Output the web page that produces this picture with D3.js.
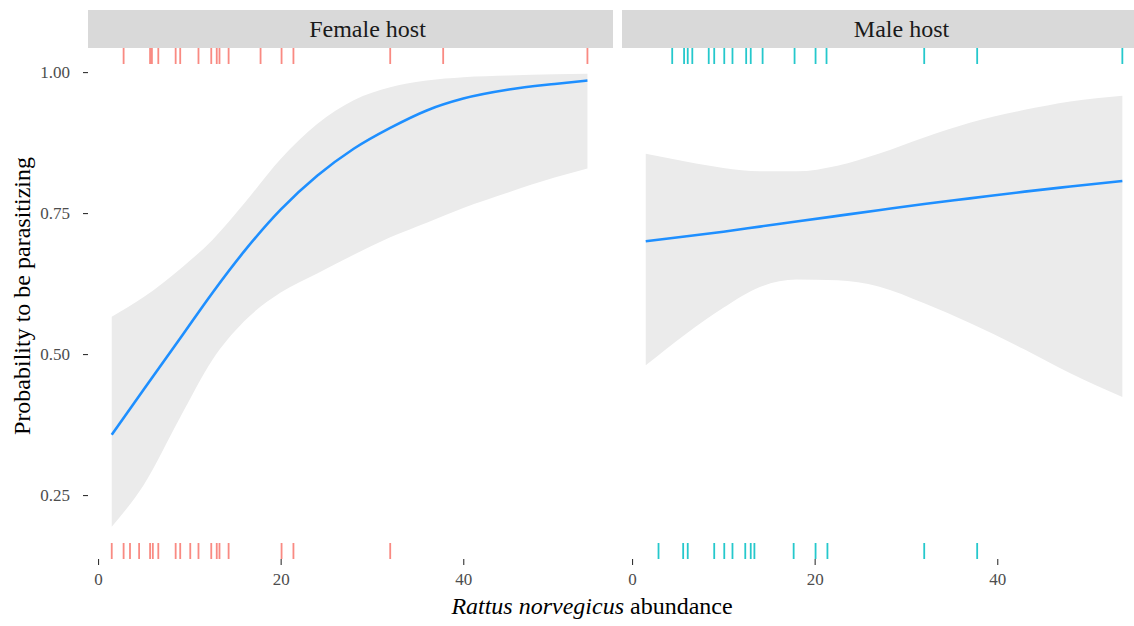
<!DOCTYPE html>
<html lang="en">
<head>
    <meta charset="UTF-8">
    <title>Probability to be parasitizing</title>
    <script type="text/javascript" src="https://cdn.jsdelivr.net/npm/d3@7"></script>
    <style>
        body { margin: 0; background: #fff; }
        svg text { font-family: "Liberation Serif", serif; }
    </style>
</head>
<body>
<script type="text/javascript">
    var w = 1134;
    var h = 626;

    var panels = ["Female host", "Male host"];
    var xTicks = [0, 20, 40];
    var yTicks = [0.25, 0.50, 0.75, 1.00];

    // fitted curve + confidence band, female hosts
    var femaleX = [1.5, 5, 9, 12.5, 16, 20, 24, 28, 32, 36, 40, 45, 50, 53.6];
    var femaleFit = [0.357, 0.437, 0.528, 0.608, 0.682, 0.756, 0.816, 0.864, 0.901, 0.932, 0.953, 0.969, 0.979, 0.985];
    var femaleHi = [0.566, 0.601, 0.651, 0.702, 0.767, 0.846, 0.908, 0.950, 0.973, 0.985, 0.991, 0.994, 0.996, 0.997];
    var femaleLo = [0.194, 0.268, 0.388, 0.489, 0.558, 0.609, 0.643, 0.676, 0.707, 0.733, 0.759, 0.787, 0.813, 0.829];

    // fitted curve + confidence band, male hosts
    var maleX = [1.5, 6, 10, 14, 18, 22.5, 27, 32, 37, 43, 48, 53.7];
    var maleFit = [0.700, 0.709, 0.717, 0.726, 0.735, 0.745, 0.755, 0.766, 0.776, 0.788, 0.797, 0.807];
    var maleHi = [0.855, 0.841, 0.830, 0.824, 0.824, 0.834, 0.855, 0.884, 0.910, 0.933, 0.948, 0.958];
    var maleLo = [0.480, 0.537, 0.582, 0.619, 0.632, 0.631, 0.620, 0.590, 0.555, 0.508, 0.466, 0.424];

    // rug: abundance of parasitizing (top) and non-parasitizing (bottom) records
    var femaleTop = [2.8, 5.7, 5.9, 6.6, 8.5, 9.0, 11.0, 12.4, 13.0, 13.3, 14.3, 17.8, 20.1, 21.4, 32.0, 37.8, 53.6];
    var femaleBottom = [1.5, 2.8, 3.5, 4.5, 5.7, 6.0, 6.6, 8.5, 9.0, 10.1, 11.0, 12.4, 13.0, 13.3, 14.3, 20.1, 21.4, 32.0];
    var maleTop = [4.4, 5.7, 6.1, 6.6, 8.4, 9.0, 10.1, 11.0, 12.5, 13.0, 14.3, 17.8, 20.1, 21.3, 32.0, 37.8, 53.7];
    var maleBottom = [2.9, 5.6, 6.1, 9.0, 10.1, 11.0, 12.4, 13.0, 13.4, 17.7, 20.1, 21.4, 32.0, 37.8];

    var panelData = [
        {x: femaleX, fit: femaleFit, hi: femaleHi, lo: femaleLo, top: femaleTop, bottom: femaleBottom, col: "#F8766D"},
        {x: maleX, fit: maleFit, hi: maleHi, lo: maleLo, top: maleTop, bottom: maleBottom, col: "#00BFC4"}
    ];

    var panelLeft = [88, 622];
    var panelW = 525;
    var panelTop = 48;
    var panelBottom = 559;
    var stripTop = 10;
    var rugLen = 16;
    var serif = "Liberation Serif, serif";

    var svg = d3.select("body")
        .append("svg")
        .attr("width", w)
        .attr("height", h)
        .attr("font-family", serif);

    var yScale = d3.scaleLinear()
        .domain([0.1366, 1.0427])
        .range([panelBottom, panelTop]);

    panels.forEach(function (name, i) {
        var p = panelData[i];
        var x0 = panelLeft[i];
        var xScale = d3.scaleLinear()
            .domain([-1.1, 56.4])
            .range([x0, x0 + panelW]);

        var g = svg.append("g");

        // strip
        g.append("rect")
            .attr("x", x0)
            .attr("y", stripTop)
            .attr("width", panelW)
            .attr("height", panelTop - stripTop)
            .attr("fill", "#D9D9D9");
        g.append("text")
            .attr("x", x0 + panelW / 2 + 17)
            .attr("y", (stripTop + panelTop) / 2)
            .attr("dy", "0.35em")
            .attr("text-anchor", "middle")
            .attr("font-family", serif)
            .attr("font-size", "24px")
            .attr("fill", "#1A1A1A")
            .text(name);

        var rows = p.x.map(function (d, j) {
            return {x: d, fit: p.fit[j], hi: p.hi[j], lo: p.lo[j]};
        });

        // confidence band
        g.append("path")
            .datum(rows)
            .attr("fill", "#EBEBEB")
            .attr("d", d3.area()
                .curve(d3.curveMonotoneX)
                .x(function (d) { return xScale(d.x); })
                .y0(function (d) { return yScale(d.lo); })
                .y1(function (d) { return yScale(d.hi); }));

        // fitted line
        g.append("path")
            .datum(rows)
            .attr("fill", "none")
            .attr("stroke", "#1E8FFF")
            .attr("stroke-width", 2.6)
            .attr("d", d3.line()
                .curve(d3.curveMonotoneX)
                .x(function (d) { return xScale(d.x); })
                .y(function (d) { return yScale(d.fit); }));

        // rugs
        g.selectAll(".rugTop")
            .data(p.top).enter()
            .append("line")
            .attr("x1", function (d) { return xScale(d); })
            .attr("x2", function (d) { return xScale(d); })
            .attr("y1", panelTop)
            .attr("y2", panelTop + rugLen)
            .attr("stroke", p.col)
            .attr("stroke-width", 1.8)
            .attr("opacity", 0.85);
        g.selectAll(".rugBottom")
            .data(p.bottom).enter()
            .append("line")
            .attr("x1", function (d) { return xScale(d); })
            .attr("x2", function (d) { return xScale(d); })
            .attr("y1", panelBottom - rugLen)
            .attr("y2", panelBottom)
            .attr("stroke", p.col)
            .attr("stroke-width", 1.8)
            .attr("opacity", 0.85);

        // x axis (ticks only, no line)
        var xAxis = g.append("g")
            .attr("transform", "translate(0," + panelBottom + ")")
            .call(d3.axisBottom(xScale).tickValues(xTicks).tickSize(6).tickPadding(8));
        xAxis.select(".domain").remove();
        xAxis.selectAll(".tick line").attr("stroke", "#333333").attr("stroke-width", 1.1);
        xAxis.selectAll(".tick text")
            .attr("font-family", serif)
            .attr("font-size", "17px")
            .attr("fill", "#4D4D4D");
    });

    // y axis on the left panel
    var yAxis = svg.append("g")
        .attr("transform", "translate(" + panelLeft[0] + ",0)")
        .call(d3.axisLeft(yScale).tickValues(yTicks).tickFormat(d3.format(".2f")).tickSize(5).tickPadding(13));
    yAxis.select(".domain").remove();
    yAxis.selectAll(".tick line").attr("stroke", "#333333").attr("stroke-width", 1.1);
    yAxis.selectAll(".tick text")
        .attr("font-family", serif)
        .attr("font-size", "17px")
        .attr("fill", "#4D4D4D");

    // axis titles
    var xTitle = svg.append("text")
        .attr("x", 592)
        .attr("y", 614)
        .attr("text-anchor", "middle")
        .attr("font-family", serif)
        .attr("font-size", "24px")
        .attr("fill", "#000");
    xTitle.append("tspan").attr("font-style", "italic").text("Rattus norvegicus");
    xTitle.append("tspan").text(" abundance");

    svg.append("text")
        .attr("transform", "translate(30,296) rotate(-90)")
        .attr("text-anchor", "middle")
        .attr("font-family", serif)
        .attr("font-size", "24px")
        .attr("fill", "#000")
        .text("Probability to be parasitizing");
</script>
</body>
</html>
